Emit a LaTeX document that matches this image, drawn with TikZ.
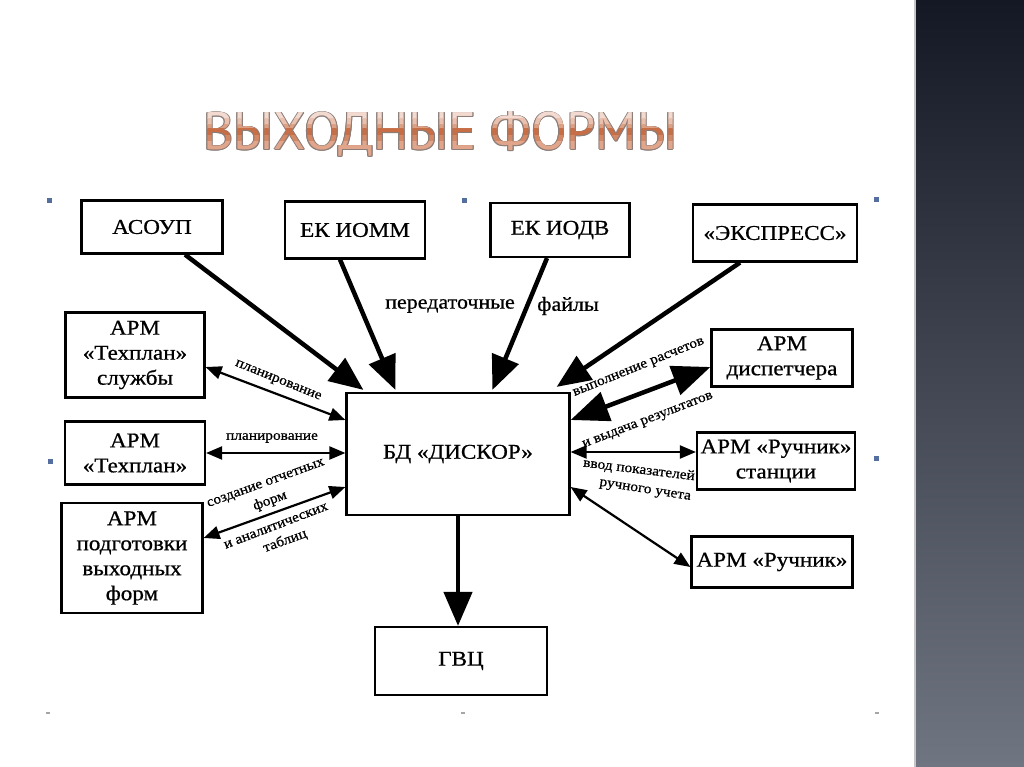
\documentclass[tikz,border=0pt]{standalone}
\usepackage{fontspec}
\usepackage{graphicx}
\setmainfont{Liberation Serif}[FakeStretch=1.1,FakeBold=0.7]
\newfontfamily\titlefont{PT Sans}
\usetikzlibrary{arrows.meta,calc}
\definecolor{panelTop}{RGB}{20,24,36}
\definecolor{panelBot}{RGB}{112,117,130}
\definecolor{handlecol}{RGB}{85,110,160}
\definecolor{tA}{RGB}{242,218,208}
\definecolor{tB}{RGB}{234,192,175}
\definecolor{tC}{RGB}{222,160,130}
\definecolor{tD}{RGB}{200,110,70}
\definecolor{tE}{RGB}{212,135,100}
\definecolor{tF}{RGB}{224,165,138}
\definecolor{tOut}{RGB}{140,125,120}
\newcommand\ttltext{\resizebox{474pt}{38pt}{\titlefont ВЫХОДНЫЕ ФОРМЫ}}
\begin{document}
\begin{tikzpicture}[x=1pt,y=-1pt,
  box/.style={draw=black, line width=2.2pt, fill=white, align=center, inner sep=0pt, font=\fontsize{21}{25}\selectfont},
  thickarrow/.style={line width=4.5pt, -{Triangle[length=34pt,width=28pt]}},
  thickdouble/.style={line width=4.5pt, {Triangle[length=38pt,width=30pt]}-{Triangle[length=38pt,width=30pt]}},
  thinarrow/.style={line width=2.2pt, {Triangle[length=16pt,width=13pt]}-{Triangle[length=16pt,width=13pt]}},
  lbl/.style={font=\fontsize{14}{16}\selectfont, inner sep=0pt},
  biglbl/.style={font=\fontsize{20}{22}\selectfont, inner sep=0pt},
  handle/.style={fill=handlecol, minimum size=5pt, inner sep=0pt},
  handlelow/.style={fill=gray!70, minimum width=4pt, minimum height=2pt, inner sep=0pt},
  titlenode/.style={anchor=base west, inner sep=0pt}
]
\useasboundingbox (0,0) rectangle (1024,767);
\fill[white] (0,0) rectangle (914,767);
\shade[top color=panelTop, bottom color=panelBot] (914,0) rectangle (1024,767);
\draw[gray!45, line width=1.5pt] (915,0) -- (915,767);

% title: outline, then banded gradient fill
\foreach \dx/\dy [count=\i] in {-0.9/0,0.9/0,0/-0.9,0/0.9,-0.7/-0.7,0.7/0.7,-0.7/0.7,0.7/-0.7}
  \node[titlenode, text=tOut] (tout\i) at (203+\dx,150+\dy) {\ttltext};
\foreach \ya/\yb/\c [count=\i] in {100/119/tA,119/125/tB,125/129/tC,129/136/tD,136/142/tE,142/170/tF}{
  \begin{scope}
    \clip (190,\ya) rectangle (700,\yb);
    \node[titlenode, text=\c] (tband\i) at (203,150) {\ttltext};
  \end{scope}
}

% handles
\node[handle] (h1) at (49,201) {};
\node[handle] (h2) at (464,201) {};
\node[handle] (h3) at (876,200) {};
\node[handle] (h4) at (50,461) {};
\node[handle] (h5) at (876,458) {};
\node[handlelow] (h6) at (48,713) {};
\node[handlelow] (h7) at (463,713) {};
\node[handlelow] (h8) at (877,713) {};

% boxes
\node[box, minimum width=141pt, minimum height=53pt] (asoup) at (152,227) {АСОУП};
\node[box, minimum width=140pt, minimum height=57pt] (iomm) at (355,230) {ЕК ИОММ};
\node[box, minimum width=139pt, minimum height=54pt] (iodv) at (560,230) {ЕК ИОДВ};
\node[box, minimum width=164pt, minimum height=57pt] (express) at (775,233) {«ЭКСПРЕСС»};
\node[box, minimum width=141pt, minimum height=57pt] (disp) at (782,358) {АРМ\\диспетчера};
\node[box, minimum width=158pt, minimum height=57pt] (rst) at (776,461) {АРМ «Ручник»\\станции};
\node[box, minimum width=161pt, minimum height=51pt] (ruch) at (772,562) {АРМ «Ручник»};
\node[box, minimum width=139pt, minimum height=85pt] (tps) at (135,355) {АРМ\\«Техплан»\\службы};
\node[box, minimum width=140pt, minimum height=63pt] (tp) at (135,453) {АРМ\\«Техплан»};
\node[box, minimum width=141pt, minimum height=110pt] (podg) at (132,558) {АРМ\\подготовки\\выходных\\форм};
\node[box, minimum width=223pt, minimum height=122pt] (db) at (458,454) {БД «ДИСКОР»};
\node[box, minimum width=172pt, minimum height=68pt] (gvc) at (461,661) {ГВЦ};

% thick arrows
\draw[thickarrow] ($(asoup.south)+(33,0)$) -- ($(db.north west)+(18,-2)$);
\draw[thickarrow] ($(iomm.south)+(-15,0)$) -- ($(db.north west)+(50,-2)$);
\draw[thickarrow] ($(iodv.south)+(-13,0)$) -- ($(db.north west)+(147,-2)$);
\draw[thickarrow] ($(express.south)+(-35,0)$) -- ($(db.north east)+(-14,-5)$);
\draw[thickarrow] (db.south) -- (db.south |- gvc.north);
\draw[thickdouble] ($(disp.west)+(0,9)$) -- ($(db.east)+(0,-34)$);

% thin double arrows
\draw[thinarrow] ($(tps.east)+(0,12)$) -- ($(db.west)+(0,-34)$);
\draw[thinarrow] (tp.east) -- ($(db.west)+(0,-1)$);
\draw[thinarrow] ($(podg.east)+(0,-20)$) -- ($(db.west)+(0,33)$);
\draw[thinarrow] ($(db.east)+(0,-2)$) -- ($(rst.west)+(0,-9)$);
\draw[thinarrow] ($(db.east)+(0,33)$) -- ($(ruch.west)+(0,5)$);

% labels
\node[biglbl] (l1) at (450,306) {передаточные};
\node[biglbl] (l2) at (568,306) {файлы};
\node[lbl, rotate=-22] (l3) at (278,381) {планирование};
\node[lbl] (l4) at (272,438) {планирование};
\node[lbl, rotate=20] (l5) at (266,484) {создание отчетных};
\node[lbl, rotate=20] (l6) at (270,501) {форм};
\node[lbl, rotate=21] (l7) at (276,526) {и аналитических};
\node[lbl, rotate=20] (l8) at (285,541) {таблиц};
\node[lbl, rotate=22] (l9) at (639,368) {выполнение расчетов};
\node[lbl, rotate=21] (l10) at (648,421) {и выдача результатов};
\node[lbl, rotate=-7] (l11) at (639,470) {ввод показателей};
\node[lbl, rotate=-9] (l12) at (645,491) {ручного учета};
\end{tikzpicture}
\end{document}
